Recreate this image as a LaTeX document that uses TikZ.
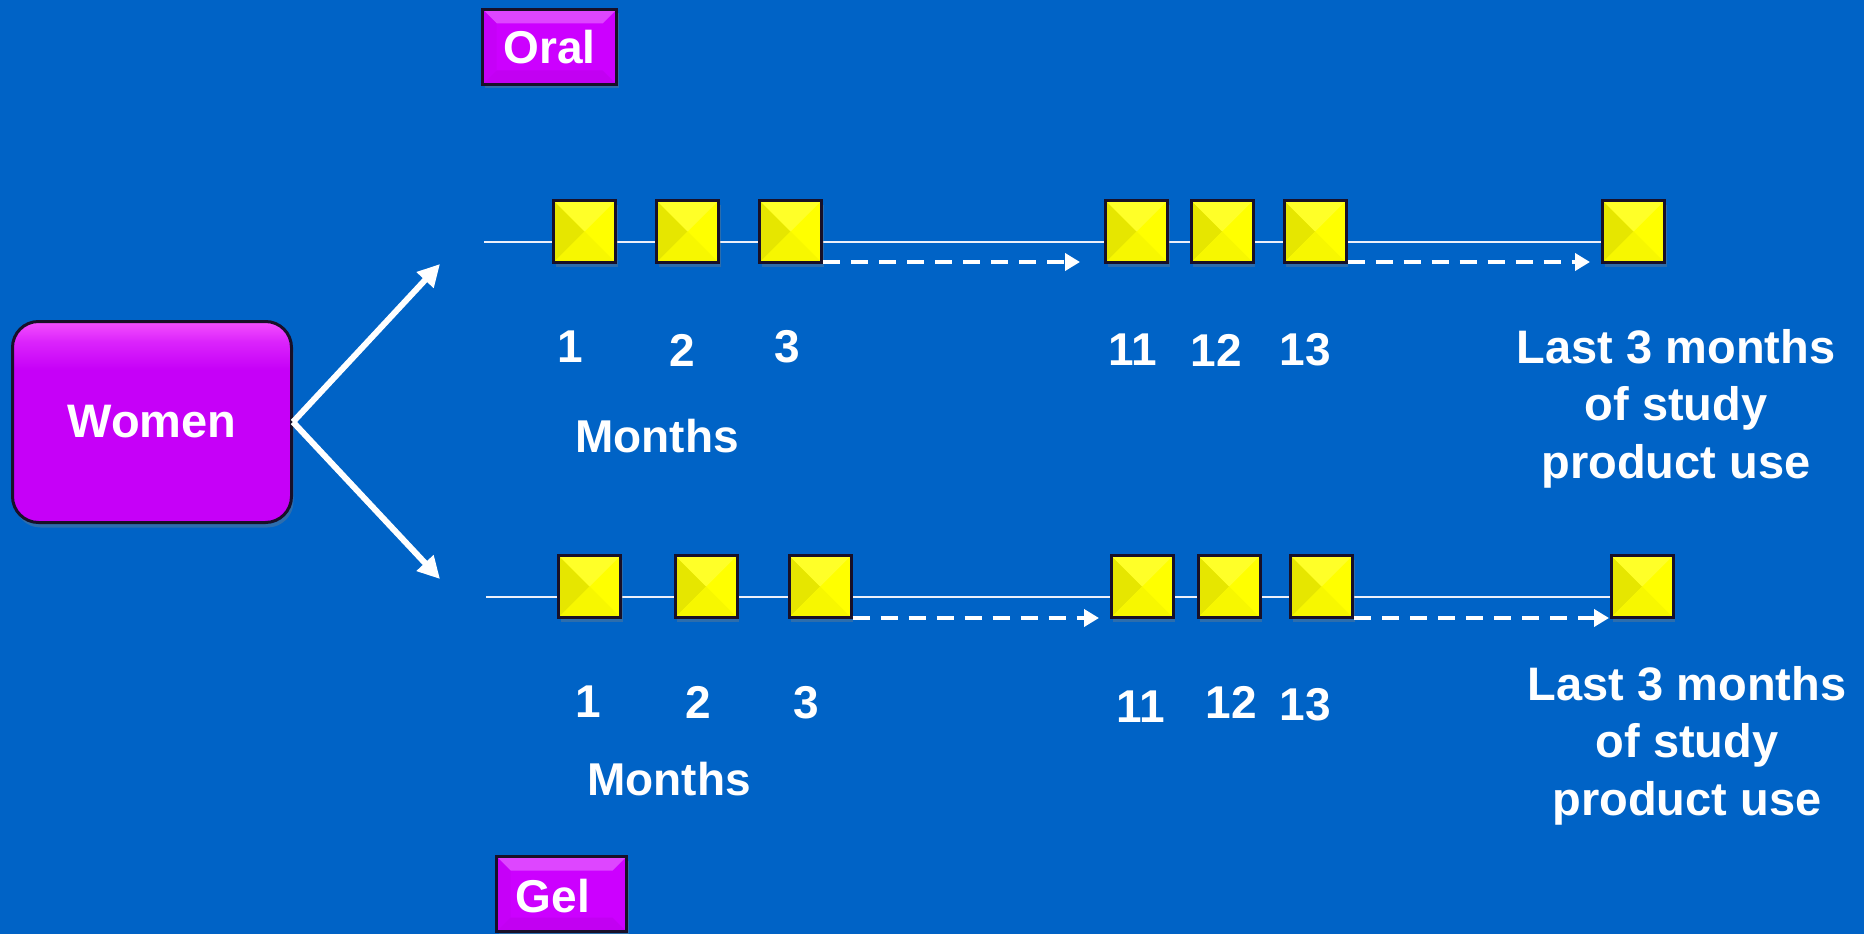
\documentclass[tikz,border=0pt]{standalone}
\usepackage{fontspec}
\setmainfont{Liberation Sans}
\usetikzlibrary{arrows.meta,shadows,calc}

\definecolor{bgblue}{RGB}{0,99,198}
\definecolor{mag}{RGB}{204,0,255}
\definecolor{magtop}{RGB}{222,70,255}
\definecolor{magleft}{RGB}{198,0,248}
\definecolor{magbot}{RGB}{194,0,242}
\definecolor{womanfill}{RGB}{198,0,248}
\definecolor{womantop}{RGB}{245,80,255}
\definecolor{edge}{RGB}{24,16,40}
\definecolor{sqy}{RGB}{255,255,0}
\definecolor{sqleft}{RGB}{230,230,0}
\definecolor{sqtop}{RGB}{255,255,40}
\definecolor{sqbot}{RGB}{247,247,0}
\definecolor{thinwhite}{RGB}{236,240,250}

% soft highlight along the top edge of the Women box
% (the path is mapped onto the 25bp--75bp part of the shading)
\pgfdeclareverticalshading{womanshade}{100bp}{
  color(0bp)=(womanfill); color(63bp)=(womanfill); color(70bp)=(womanfill!55!womantop);
  color(75bp)=(womantop); color(100bp)=(womantop)}

\pgfdeclarelayer{backdrop}
\pgfdeclarelayer{lines}
\pgfsetlayers{backdrop,lines,main}

\tikzset{
  yellowsq/.style={minimum size=62pt, inner sep=0pt, draw=edge, line width=3pt,
    fill=sqy,
    drop shadow={opacity=0.35, shadow xshift=2pt, shadow yshift=-4pt},
    path picture={
      \fill[sqleft] (path picture bounding box.north west) -- (path picture bounding box.center)
        -- (path picture bounding box.south west) -- cycle;
      \fill[sqtop] (path picture bounding box.north west) -- (path picture bounding box.center)
        -- (path picture bounding box.north east) -- cycle;
      \fill[sqbot] (path picture bounding box.south west) -- (path picture bounding box.center)
        -- (path picture bounding box.south east) -- cycle;
    }},
  tagbox/.style={draw=edge, line width=2.5pt, fill=mag, inner sep=0pt,
    minimum width=134pt, minimum height=75pt,
    text=white, font=\fontsize{46}{55}\selectfont\bfseries,
    drop shadow={opacity=0.35, shadow xshift=2pt, shadow yshift=-4pt},
    path picture={
      \fill[magtop] (path picture bounding box.north west) -- (path picture bounding box.north east)
        -- ($(path picture bounding box.north east)+(-14,14)$)
        -- ($(path picture bounding box.north west)+(14,14)$) -- cycle;
      \fill[magleft] (path picture bounding box.north west) -- ($(path picture bounding box.north west)+(14,14)$)
        -- ($(path picture bounding box.south west)+(14,-14)$) -- (path picture bounding box.south west) -- cycle;
      \fill[magbot] (path picture bounding box.south west) -- ($(path picture bounding box.south west)+(14,-14)$)
        -- ($(path picture bounding box.south east)+(-14,-14)$) -- (path picture bounding box.south east) -- cycle;
    }},
  womanbox/.style={draw=edge, line width=3pt, shading=womanshade, rounded corners=26pt,
    minimum width=279pt, minimum height=201pt, inner sep=0pt,
    text=white, font=\fontsize{47}{56}\selectfont\bfseries,
    drop shadow={opacity=0.35, shadow xshift=2pt, shadow yshift=-5pt}},
  lbl/.style={text=white, inner sep=0pt, font=\fontsize{46}{55}\selectfont\bfseries},
  endlbl/.style={text=white, inner sep=0pt, align=center, font=\fontsize{47}{57.5}\selectfont\bfseries},
  bigarrow/.style={draw=white, line width=6pt, -{Triangle[length=22pt,width=22pt]}},
  dasharrow/.style={draw=white, line width=4pt, dash pattern=on 17pt off 11pt,
    -{Triangle[length=15pt,width=17pt]}},
  thinline/.style={draw=thinwhite, line width=2pt},
}

\begin{document}
\begin{tikzpicture}[x=1pt,y=-1pt]
  \begin{pgfonlayer}{backdrop}
    \fill[bgblue] (0,0) rectangle (1864,934);
  \end{pgfonlayer}
  \clip (0,0) rectangle (1864,934);

  % group boxes
  \node[tagbox] (oral) at (549.5,47) {Oral};
  \node[tagbox, minimum width=130pt] (gel) at (561.5,894) {};
  \node[lbl] (gellbl) at (553,896) {Gel};
  \node[womanbox] (women) at (152,422) {Women};

  % branch arrows
  \coordinate (oralend) at (440,264);
  \coordinate (gelend) at (440,579);
  \draw[bigarrow] (women.east) -- (oralend);
  \draw[bigarrow] (women.east) -- (gelend);

  % oral timeline
  \node[yellowsq] (t1) at (584.5,231.5) {};
  \node[yellowsq] (t2) at (687.5,231.5) {};
  \node[yellowsq] (t3) at (790.5,231.5) {};
  \node[yellowsq] (t11) at (1136.5,231.5) {};
  \node[yellowsq] (t12) at (1222,231.5) {};
  \node[yellowsq] (t13) at (1315,231.5) {};
  \node[yellowsq] (tL) at (1633.5,231.5) {};
  \coordinate (tstart) at (484,242);
  \coordinate (tgap1) at (1080,262);
  \coordinate (tgap2) at (1590,262);
  \begin{pgfonlayer}{lines}
    \draw[thinline] (tstart) -- (tstart -| tL.west);
  \end{pgfonlayer}
  \draw[dasharrow] (t3.east |- tgap1) -- (tgap1);
  \draw[dasharrow] (t13.east |- tgap2) -- (tgap2);

  \node[lbl] (tn1) at (570,347) {1};
  \node[lbl] (tn2) at (682,350) {2};
  \node[lbl] (tn3) at (787,347) {3};
  \node[lbl] (tn11) at (1133,350) {11};
  \node[lbl] (tn12) at (1216,350) {12};
  \node[lbl] (tn13) at (1305,350) {13};
  \node[lbl] (tmon) at (657,436) {Months};
  \node[endlbl] (tlast) at (1676,408.5) {Last 3 months\\of study\\product use};

  % gel timeline
  \node[yellowsq] (b1) at (589.5,586.5) {};
  \node[yellowsq] (b2) at (706,586.5) {};
  \node[yellowsq] (b3) at (820,586.5) {};
  \node[yellowsq] (b11) at (1142,586.5) {};
  \node[yellowsq] (b12) at (1229,586.5) {};
  \node[yellowsq] (b13) at (1321.5,586.5) {};
  \node[yellowsq] (bL) at (1642,586.5) {};
  \coordinate (bstart) at (486,597);
  \coordinate (bgap1) at (1099,618);
  \coordinate (bgap2) at (1609,618);
  \begin{pgfonlayer}{lines}
    \draw[thinline] (bstart) -- (bstart -| bL.west);
  \end{pgfonlayer}
  \draw[dasharrow] (b3.east |- bgap1) -- (bgap1);
  \draw[dasharrow] (b13.east |- bgap2) -- (bgap2);

  \node[lbl] (bn1) at (588,702) {1};
  \node[lbl] (bn2) at (698,702) {2};
  \node[lbl] (bn3) at (806,703) {3};
  \node[lbl] (bn11) at (1141,707) {11};
  \node[lbl] (bn12) at (1231,702) {12};
  \node[lbl] (bn13) at (1305,705) {13};
  \node[lbl] (bmon) at (669,779) {Months};
  \node[endlbl] (blast) at (1687,745.5) {Last 3 months\\of study\\product use};
\end{tikzpicture}
\end{document}
